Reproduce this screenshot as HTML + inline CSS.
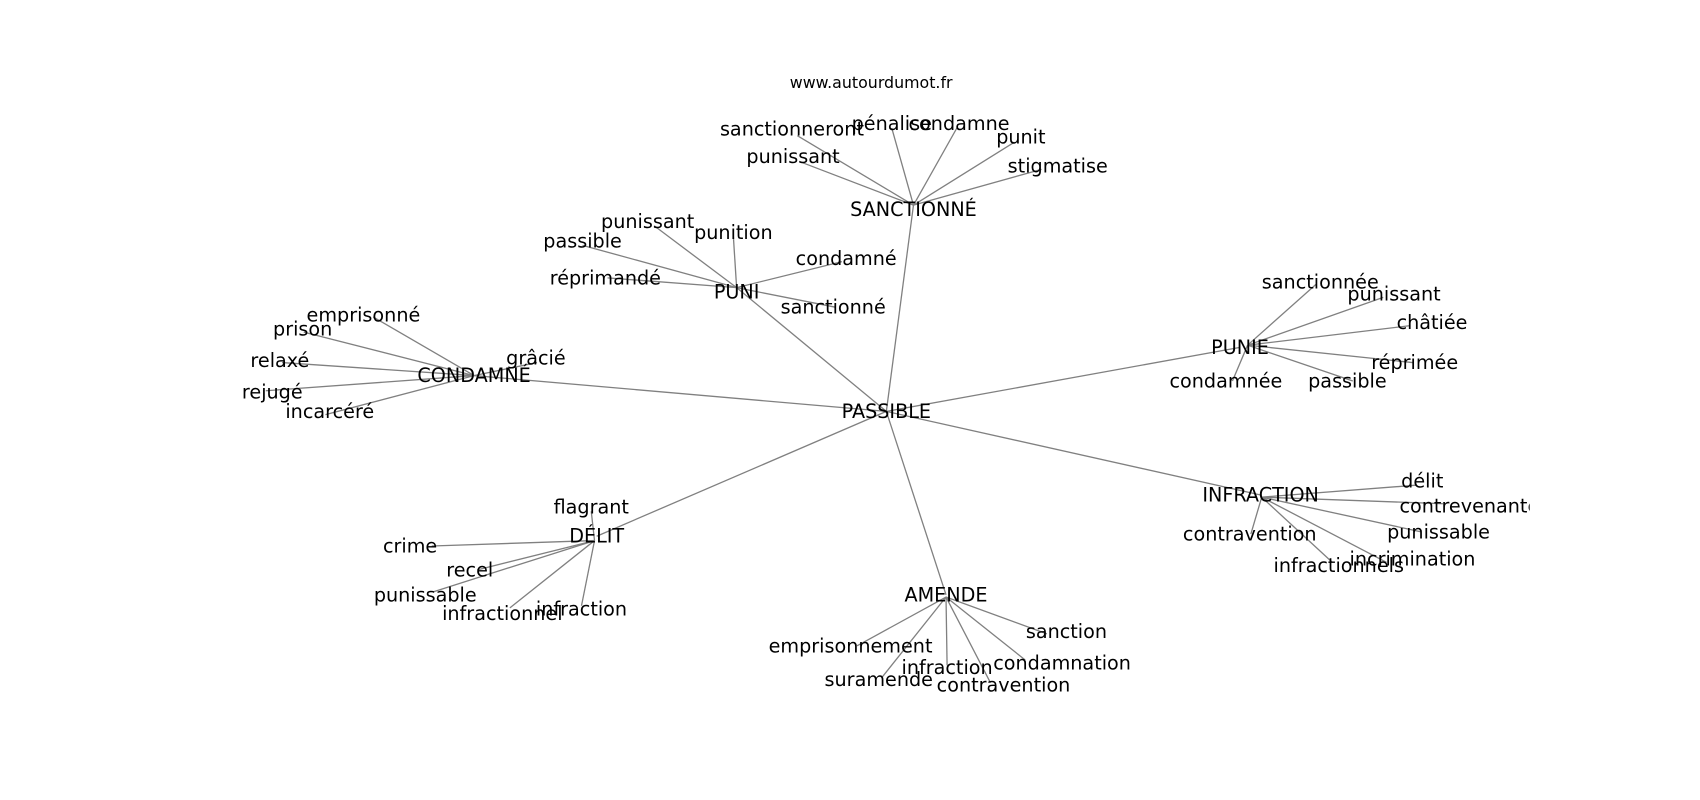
<!DOCTYPE html>
<html><head><meta charset="utf-8"><style>
html,body{margin:0;padding:0;background:#fff;}
svg{display:block;}
text{font-family:"DejaVu Sans","Liberation Sans",sans-serif;font-size:17.7px;fill:#000;text-anchor:middle;dominant-baseline:central;}
line{stroke:#808080;stroke-width:1.2;}
</style></head><body>
<svg width="1700" height="800" viewBox="0 0 1567 737" preserveAspectRatio="none" xmlns="http://www.w3.org/2000/svg">
<defs><clipPath id="c"><rect x="0" y="0" width="1410" height="737"/></clipPath></defs>
<g clip-path="url(#c)">
<g>
<line x1="817" y1="379" x2="842" y2="189"/>
<line x1="817" y1="379" x2="679" y2="265"/>
<line x1="817" y1="379" x2="437" y2="346"/>
<line x1="817" y1="379" x2="1143" y2="320"/>
<line x1="817" y1="379" x2="1162" y2="456"/>
<line x1="817" y1="379" x2="550" y2="494"/>
<line x1="817" y1="379" x2="872" y2="548"/>

<line x1="842" y1="189" x2="735" y2="125"/>
<line x1="842" y1="189" x2="822" y2="118"/>
<line x1="842" y1="189" x2="882" y2="118"/>
<line x1="842" y1="189" x2="935" y2="131"/>
<line x1="842" y1="189" x2="960" y2="156"/>
<line x1="842" y1="189" x2="740" y2="150"/>

<line x1="679" y1="265" x2="603" y2="208"/>
<line x1="679" y1="265" x2="676" y2="218"/>
<line x1="679" y1="265" x2="537" y2="226"/>
<line x1="679" y1="265" x2="560" y2="256"/>
<line x1="679" y1="265" x2="776" y2="241"/>
<line x1="679" y1="265" x2="770" y2="283"/>

<line x1="437" y1="346" x2="344" y2="292"/>
<line x1="437" y1="346" x2="280" y2="306"/>
<line x1="437" y1="346" x2="260" y2="334"/>
<line x1="437" y1="346" x2="245" y2="360"/>
<line x1="437" y1="346" x2="300" y2="382"/>
<line x1="437" y1="346" x2="495" y2="334"/>

<line x1="1150" y1="318" x2="1213" y2="262"/>
<line x1="1150" y1="318" x2="1275" y2="274"/>
<line x1="1150" y1="318" x2="1300" y2="300"/>
<line x1="1150" y1="318" x2="1302" y2="334"/>
<line x1="1150" y1="318" x2="1247" y2="351"/>
<line x1="1150" y1="318" x2="1136" y2="351"/>

<line x1="1163" y1="458" x2="1305" y2="447"/>
<line x1="1163" y1="458" x2="1330" y2="464"/>
<line x1="1163" y1="458" x2="1310" y2="490"/>
<line x1="1163" y1="458" x2="1278" y2="518"/>
<line x1="1163" y1="458" x2="1228" y2="518"/>
<line x1="1163" y1="458" x2="1153" y2="492"/>

<line x1="548" y1="498" x2="545" y2="471"/>
<line x1="548" y1="498" x2="398" y2="503"/>
<line x1="548" y1="498" x2="440" y2="525"/>
<line x1="548" y1="498" x2="400" y2="545"/>
<line x1="548" y1="498" x2="470" y2="560"/>
<line x1="548" y1="498" x2="536" y2="558"/>

<line x1="872" y1="550" x2="965" y2="584"/>
<line x1="872" y1="550" x2="790" y2="595"/>
<line x1="872" y1="550" x2="813" y2="624"/>
<line x1="872" y1="550" x2="873" y2="613"/>
<line x1="872" y1="550" x2="945" y2="608"/>
<line x1="872" y1="550" x2="913" y2="629"/>
</g>
<text x="803" y="76" style="font-size:14.6px">www.autourdumot.fr</text>
<text x="817" y="379">PASSIBLE</text>
<text x="842" y="193">SANCTIONNÉ</text>
<text x="730" y="119">sanctionneront</text>
<text x="822" y="114">pénalise</text>
<text x="884" y="114">condamne</text>
<text x="941" y="126">punit</text>
<text x="975" y="153">stigmatise</text>
<text x="731" y="144">punissant</text>
<text x="679" y="269">PUNI</text>
<text x="597" y="204">punissant</text>
<text x="676" y="214">punition</text>
<text x="537" y="222">passible</text>
<text x="558" y="256">réprimandé</text>
<text x="780" y="238">condamné</text>
<text x="768" y="283">sanctionné</text>
<text x="437" y="346">CONDAMNÉ</text>
<text x="335" y="290">emprisonné</text>
<text x="279" y="303">prison</text>
<text x="258" y="332">relaxé</text>
<text x="251" y="361">rejugé</text>
<text x="304" y="379">incarcéré</text>
<text x="494" y="330">grâcié</text>
<text x="1143" y="320">PUNIE</text>
<text x="1217" y="260">sanctionnée</text>
<text x="1285" y="271">punissant</text>
<text x="1320" y="297">châtiée</text>
<text x="1304" y="334">réprimée</text>
<text x="1242" y="351">passible</text>
<text x="1130" y="351">condamnée</text>
<text x="1162" y="456">INFRACTION</text>
<text x="1311" y="443">délit</text>
<text x="1290" y="466" style="text-anchor:start">contrevenante</text>
<text x="1326" y="490">punissable</text>
<text x="1302" y="515">incrimination</text>
<text x="1234" y="521">infractionnels</text>
<text x="1152" y="492">contravention</text>
<text x="550" y="494">DÉLIT</text>
<text x="545" y="467">flagrant</text>
<text x="378" y="503">crime</text>
<text x="433" y="525">recel</text>
<text x="392" y="548">punissable</text>
<text x="463" y="565">infractionnel</text>
<text x="536" y="561">infraction</text>
<text x="872" y="548">AMENDE</text>
<text x="983" y="582">sanction</text>
<text x="784" y="595">emprisonnement</text>
<text x="810" y="626">suramende</text>
<text x="873" y="615">infraction</text>
<text x="979" y="611">condamnation</text>
<text x="925" y="631">contravention</text>
</g>
</svg>
</body></html>
